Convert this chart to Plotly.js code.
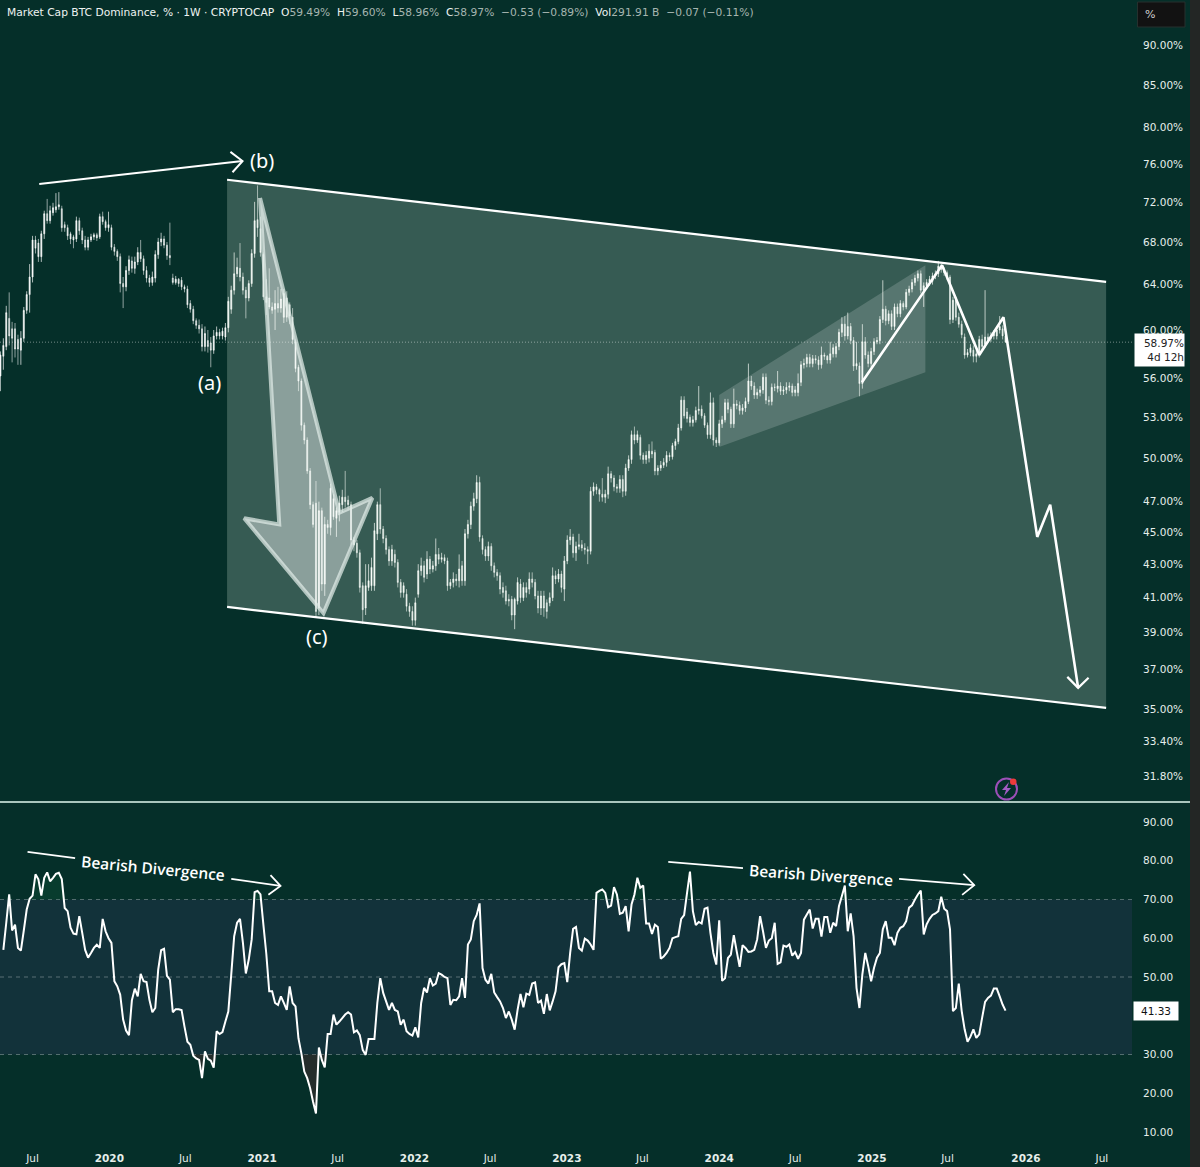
<!DOCTYPE html>
<html><head><meta charset="utf-8">
<script src="https://cdn.plot.ly/plotly-3.0.1.min.js"></script>
<style>html,body{margin:0;padding:0;background:#052f29}#c{width:1200px;height:1167px}</style></head>
<body><div id="c"></div>
<script>
const firstWeek = '2019-04-15';
const opens = [
56.2,57.8,58.6,61.0,60.1,60.1,59.2,58.3,59.3,61.7,
63.1,64.7,68.2,67.9,66.6,68.8,70.8,70.1,70.9,71.2,
71.5,71.3,69.7,69.4,68.8,68.5,68.3,70.1,69.1,68.2,
67.5,68.2,68.5,68.7,68.5,70.5,70.0,69.4,69.4,67.5,
67.1,66.6,64.1,63.8,65.3,66.2,65.5,66.1,67.0,66.4,
65.3,64.6,64.2,64.6,66.8,68.0,68.3,67.7,66.7,64.6,
64.2,64.5,64.4,63.8,63.6,62.3,61.8,60.8,60.4,60.1,
58.6,59.1,58.9,58.3,59.5,59.8,59.5,59.4,60.2,61.8,
63.5,65.0,65.5,64.7,63.5,62.8,64.1,66.9,70.2,69.3,
66.8,62.9,62.8,62.0,61.8,62.3,61.9,61.1,62.8,62.2,
61.1,59.0,56.9,55.8,52.4,51.3,49.1,46.8,46.9,40.4,
46.4,41.8,45.5,45.3,47.2,45.9,46.3,46.8,47.3,47.1,
46.8,44.5,44.3,43.7,41.7,40.4,41.6,41.7,41.7,44.9,
46.8,45.2,44.6,43.9,43.2,43.6,43.1,41.9,41.3,41.2,
40.5,40.2,39.7,41.2,42.6,42.9,42.4,43.3,42.7,42.9,
43.6,43.3,43.4,43.2,41.7,41.9,42.1,42.0,42.9,42.0,
44.9,45.5,46.7,47.2,48.3,44.6,43.9,43.5,44.1,42.9,
42.5,42.3,41.6,41.4,40.9,40.9,40.0,40.8,41.8,41.0,
41.6,41.5,42.1,41.9,41.1,40.4,41.1,40.7,40.7,41.0,
42.3,42.1,42.4,41.5,43.2,44.5,44.7,43.7,44.1,44.2,
44.0,43.9,43.8,47.7,48.0,47.8,47.5,47.3,47.5,48.9,
48.6,48.0,47.9,48.5,47.7,49.3,49.9,51.7,51.3,51.5,
50.2,49.9,50.0,50.5,50.4,49.1,49.3,49.5,49.7,50.2,
50.1,50.9,51.2,52.2,54.3,53.4,53.0,52.6,52.8,53.5,
53.6,53.1,52.4,51.7,54.1,51.3,51.1,52.5,52.8,54.1,
53.6,52.5,54.0,53.9,53.5,53.7,54.2,55.8,55.4,54.7,
54.9,55.1,56.1,54.3,54.2,55.3,55.2,55.4,55.0,55.1,
55.3,55.4,54.9,54.9,55.7,57.1,57.2,57.7,57.2,57.6,
57.5,57.1,57.9,57.8,57.5,58.0,58.0,58.6,59.8,60.5,
59.5,60.3,59.1,57.0,57.0,55.6,59.0,57.9,57.2,58.2,
59.0,59.1,60.9,61.8,60.8,61.4,60.3,62.0,61.4,62.3,
62.0,63.3,63.6,64.2,64.6,65.0,63.5,63.9,64.2,64.3,
64.8,65.0,65.7,65.4,65.1,64.7,60.9,62.6,61.1,60.5,
59.4,57.9,58.1,58.3,57.8,58.0,59.2,58.8,59.4,59.3,
59.5,59.5,60.0,60.1,59.49];
const closes = [
57.9,58.7,61.5,59.5,59.3,58.4,58.4,59.3,61.7,63.1,
64.7,68.2,67.4,66.6,68.8,70.8,70.1,71.1,71.4,71.5,
71.7,69.4,69.4,68.6,68.3,68.2,70.1,69.1,68.2,67.5,
68.2,68.5,68.7,68.4,70.5,70.0,69.4,69.7,67.5,67.1,
66.6,64.1,63.8,65.3,66.3,65.5,66.1,67.0,66.4,65.3,
64.6,64.2,64.7,66.8,68.0,68.3,67.7,66.7,66.5,64.2,
64.5,64.1,63.8,63.6,62.2,61.8,60.8,60.4,60.1,58.6,
59.7,58.6,58.3,59.5,59.8,59.5,59.9,60.2,62.5,63.5,
65.0,65.6,64.7,63.5,62.8,64.1,66.9,70.1,69.4,67.0,
62.9,62.4,62.0,61.7,62.3,61.9,62.7,63.2,61.1,61.2,
59.2,56.8,55.8,52.4,51.3,49.1,46.8,45.5,40.2,46.4,
41.8,45.5,45.3,47.9,46.0,46.4,46.9,47.3,47.0,46.8,
44.5,44.2,43.7,41.6,40.3,41.7,42.0,42.8,45.1,46.8,
45.2,44.6,43.9,43.2,43.9,43.1,41.9,41.3,41.7,40.5,
40.2,39.7,40.7,42.6,42.9,42.2,43.3,42.7,42.9,43.6,
43.3,43.4,43.2,41.7,41.9,42.1,42.0,42.7,42.0,44.9,
45.5,46.7,47.2,48.3,44.7,43.9,43.5,44.1,42.9,42.5,
42.3,41.5,41.3,40.8,40.8,40.0,40.9,41.9,41.0,41.6,
41.3,42.1,41.9,41.1,40.4,41.1,40.4,40.2,41.0,42.3,
42.1,42.4,41.6,43.2,44.5,44.7,43.7,44.1,44.2,44.0,
43.9,43.8,47.7,48.0,47.8,47.5,47.3,47.5,48.9,48.6,
48.0,47.9,48.5,47.7,49.3,49.9,51.7,51.3,51.7,50.2,
49.9,50.2,50.5,50.3,49.1,49.3,49.5,49.7,50.2,50.1,
50.9,51.2,52.2,54.3,53.1,52.9,52.6,52.8,53.5,53.6,
53.1,52.4,51.7,54.1,51.3,51.1,52.5,52.8,54.1,53.6,
52.5,54.0,53.9,53.5,53.7,54.2,55.8,55.4,54.7,54.9,
55.1,56.1,54.3,54.2,55.3,55.3,55.4,55.0,55.1,55.3,
55.4,54.9,55.1,55.6,57.1,57.2,57.7,57.2,57.6,57.5,
57.1,57.9,57.8,57.5,58.0,58.5,58.6,59.8,60.5,59.5,
60.3,59.1,57.0,57.2,55.6,59.0,57.9,57.2,58.2,59.0,
59.1,60.9,61.8,60.8,61.4,60.3,62.0,61.4,62.3,62.0,
63.3,63.6,64.2,64.6,65.0,63.5,63.9,64.2,64.5,64.8,
65.0,65.7,65.4,65.1,64.7,60.9,62.6,61.1,60.5,59.6,
57.9,58.1,58.5,57.8,58.0,59.2,58.6,59.4,59.2,59.5,
59.7,60.0,60.3,59.5,58.97];
const highs = [
58.2,59.3,62.1,63.3,60.7,60.6,59.6,59.9,62.0,63.4,
65.9,68.6,68.6,68.3,69.1,71.1,72.3,71.6,71.9,72.9,
73.0,71.6,70.0,69.7,69.0,68.7,70.5,70.4,69.4,68.6,
68.5,68.8,68.9,68.9,70.8,71.0,70.2,71.0,69.7,67.8,
67.3,66.9,64.7,65.7,66.7,66.6,66.6,67.5,68.2,66.7,
65.7,64.9,65.2,67.2,68.4,68.9,68.6,68.0,69.9,65.0,
64.8,64.6,64.7,64.0,63.9,62.6,62.1,61.0,60.9,60.5,
60.3,60.0,59.4,60.0,60.3,60.1,60.2,60.6,62.9,63.9,
67.0,66.5,67.9,65.1,63.8,64.4,67.3,72.0,73.7,70.5,
67.0,64.5,65.5,62.4,63.5,63.8,63.6,63.6,63.4,62.4,
61.9,59.2,57.1,56.0,52.6,51.5,49.3,47.0,48.4,47.0,
46.6,46.0,45.8,48.2,47.5,46.6,47.4,47.8,49.1,47.4,
47.0,44.7,44.5,43.9,41.9,43.0,43.0,43.4,45.6,47.0,
47.9,45.4,44.8,44.1,44.2,43.9,43.3,42.1,41.9,41.5,
40.7,40.5,41.0,43.0,43.4,43.2,43.8,43.5,43.2,44.6,
44.0,43.7,43.6,43.4,42.1,42.5,42.4,43.6,43.2,45.2,
45.8,47.0,47.6,48.8,48.7,44.8,44.1,44.4,44.3,43.1,
42.7,42.5,41.9,41.7,41.2,41.1,41.0,42.2,42.1,41.9,
41.9,42.5,42.5,42.1,41.4,41.4,41.4,40.9,41.3,42.8,
42.6,42.7,42.6,43.5,44.8,45.2,44.9,44.4,44.9,44.5,
44.3,44.1,48.0,48.3,48.2,47.9,48.6,47.8,49.4,49.1,
48.8,48.2,48.8,48.8,49.6,50.2,52.0,52.3,52.0,51.7,
50.4,50.5,51.0,51.2,50.6,49.5,49.8,50.0,50.5,50.4,
51.1,51.4,52.5,54.6,54.6,53.7,53.2,53.1,53.8,55.4,
53.9,53.3,52.6,54.9,54.5,51.5,52.8,53.1,54.4,54.4,
53.8,55.2,54.3,54.2,54.0,54.5,57.2,56.2,55.7,55.2,
55.4,56.4,56.4,54.6,55.6,55.6,56.6,55.7,55.4,55.7,
55.7,55.6,55.4,56.4,57.4,57.6,58.0,58.0,57.9,57.9,
57.8,58.6,58.1,57.9,59.0,58.8,58.9,60.1,61.1,61.2,
61.5,60.6,59.4,59.0,57.3,60.5,59.4,58.2,58.5,59.3,
59.4,61.2,64.4,62.1,61.7,61.7,62.3,62.3,62.6,62.5,
63.6,63.9,64.5,64.9,65.3,65.3,64.2,64.5,64.8,65.1,
65.3,66.2,65.9,65.6,65.3,64.9,62.9,62.9,61.5,60.8,
59.7,58.4,58.8,58.7,58.3,59.5,59.6,63.5,59.7,59.8,
60.0,60.3,61.2,60.4,59.6];
const lows = [
55.0,56.7,58.3,58.7,57.3,57.7,57.1,57.1,59.0,61.4,
61.5,64.2,66.9,66.1,66.1,68.3,69.8,69.8,70.6,70.9,
71.2,69.0,69.0,68.2,67.8,67.4,68.0,68.7,67.8,67.2,
67.2,68.0,68.2,68.1,68.3,69.7,69.1,69.0,67.2,66.7,
66.2,63.3,61.9,63.4,64.9,65.1,65.0,65.8,66.1,64.9,
64.2,63.8,63.9,64.2,66.4,67.6,67.4,66.3,65.8,64.0,
64.0,63.8,63.5,63.3,61.9,61.5,60.5,60.1,59.7,58.2,
58.2,58.1,56.9,58.0,59.2,59.2,59.2,59.1,59.8,61.4,
63.1,64.7,64.3,63.1,61.0,62.5,63.8,66.5,68.5,66.6,
62.6,61.3,61.8,61.4,60.0,61.5,61.5,60.6,60.7,60.5,
58.8,56.5,55.0,52.0,51.0,48.9,46.5,45.3,39.9,40.0,
41.4,41.1,44.9,44.8,45.8,44.7,45.7,46.3,46.6,46.5,
44.2,43.8,43.4,41.3,39.5,40.0,41.4,41.4,41.4,44.5,
44.9,44.3,43.6,42.9,42.9,42.8,41.6,41.0,41.0,40.2,
39.9,39.4,39.4,41.0,42.3,41.9,42.1,42.4,42.5,42.6,
43.0,43.1,43.0,41.4,41.5,41.6,41.7,41.6,41.7,41.7,
44.6,45.2,46.4,46.9,44.4,43.6,43.2,43.2,42.6,42.2,
42.0,41.2,41.0,40.6,40.5,39.7,39.2,40.6,40.7,40.8,
41.0,41.2,41.6,40.9,40.1,40.0,39.9,39.8,40.5,40.8,
41.8,41.9,41.3,40.8,43.0,44.2,43.4,43.2,43.9,43.8,
43.6,43.0,43.6,47.4,47.5,47.0,47.0,46.9,47.2,48.3,
47.7,47.6,47.6,47.3,47.4,49.1,49.6,51.0,51.1,49.9,
49.6,49.6,49.7,50.0,48.8,48.8,49.1,49.3,49.4,49.8,
49.9,50.6,51.0,52.0,52.9,52.6,52.3,52.3,52.6,53.2,
52.9,52.2,51.4,51.4,50.9,50.8,50.9,52.2,52.6,53.3,
52.2,52.2,53.6,53.2,53.2,53.4,54.0,55.1,54.4,54.4,
54.6,54.8,54.0,53.9,53.9,55.0,54.9,54.7,54.7,54.8,
55.0,54.6,54.6,54.6,55.4,56.8,56.9,56.9,56.9,57.2,
56.7,56.8,57.5,57.2,57.2,57.7,57.7,58.3,59.4,59.1,
59.2,58.8,56.6,56.7,54.6,55.2,57.6,56.9,56.9,57.9,
58.8,58.8,60.6,60.4,60.5,60.0,60.0,61.1,61.1,61.7,
61.8,63.0,63.3,63.9,64.3,63.2,62.0,63.6,63.9,64.0,
64.5,64.7,65.1,64.8,64.4,60.5,60.6,60.8,60.2,59.3,
57.6,57.7,57.8,57.3,57.3,57.7,58.3,58.5,58.9,59.0,
59.2,59.2,59.7,59.2,58.96];
const rsi = [
57,64,71.3,62,63.5,57.5,56.8,62,67.4,70.2,71,76.5,75.2,71,75.6,77,74.7,75.6,76.6,76.9,
75.3,67.8,67,62.7,61.2,61,65.7,61.4,57,55,56.2,57.5,58.3,57.5,65,61.8,60,58.8,48.9,47.6,
45.4,39,36.2,35,44,47,45,50.8,48.9,48.7,44.1,40.9,42,51.9,56.9,57.3,50.3,49.3,40.9,41.7,
41.7,41.5,37.2,33.3,32.5,29.7,29,28.6,23.9,30.8,28.9,28.4,26.6,36,35.3,35.8,38.5,41.1,50.6,60.5,
64,65,58.8,50.9,54.5,59.7,71.9,72.2,71.3,63.5,56,46.3,46.3,43.3,42.8,45,43.3,41.5,47.6,43.3,
42.4,34.2,30.3,25.6,23.9,21.3,17.8,14.8,31.8,28.6,26.7,35.3,35.3,40.3,37.7,38.5,39.4,40.3,40.9,40.3,
35.7,36.2,35,31.2,29.9,34,34,34,43.3,49.7,45.9,43.7,41.5,43.3,41.5,41.1,37.7,
39,36,35.3,34.9,37,34.4,43.3,47.2,46,49.7,47.8,48.3,51,50.6,50,49.7,42.8,44.1,44,45,49.7,44.6,
58.4,59.7,64.4,66,69,52.3,49.3,48.3,50.8,46,44.8,43.7,42,39.4,41.1,39,36.4,41.5,45.6,42.2,45.7,45.4,
48.3,48.6,43.3,43.9,40.5,45.6,41.4,43.7,46.3,52.5,53.3,53.6,48.7,56.2,62.4,62.9,57.5,56.8,59.9,59.4,
58.4,57,71.7,72.2,72.6,71.7,68,68.4,73.2,71.3,66.3,66.6,68.3,61.8,68.7,71.3,75.6,73,73.6,63.8,63.8,
61.1,63.5,62.9,54.7,55.3,56.2,57.5,60,60.3,60.5,65,66,71.7,77.2,67,63.4,64.2,63.8,67.6,67.9,61.4,
56.2,53.2,64.6,49,49.7,54.9,55.8,60.8,56.6,52.6,58.2,57.5,56.5,56.6,57,59.7,65.7,61.8,57.5,59.4,60,64,
53.4,53.8,58.1,57.8,58.4,55.5,56.4,54.7,56.2,
64.8,66.1,67.4,62.5,65,65,60.4,65.5,65.5,61.4,64,63.1,68.3,70.9,73.6,61.8,66.4,60.5,47.2,42,50.7,
56.2,52.8,48.9,52.4,55,56.2,62.3,64.4,60.1,60.1,58.2,61.4,62.7,63.1,64.4,67.9,68.5,70,71.3,72.3,
61,63.6,65,66,66.4,67,70.7,67.6,67,62.3,41.2,42,48.3,41.2,36.5,33.3,34.6,36.5,34.3,35.2,
39.5,43.6,44.6,45.2,47,47,45,42.9,41.33];
const priceTicks = [90,85,80,76,72,68,64,60,56,53,50,47,45,43,41,39,37,35,33.4,31.8];
const rsiTicks = [90,80,70,60,50,30,20,10];
const timeTicks = ['2019-07-01','2020-01-01','2020-07-01','2021-01-01','2021-07-01','2022-01-01','2022-07-01','2023-01-01','2023-07-01','2024-01-01','2024-07-01','2025-01-01','2025-07-01','2026-01-05','2026-07-06'];
const timeLabels = ['Jul','<b>2020</b>','Jul','<b>2021</b>','Jul','<b>2022</b>','Jul','<b>2023</b>','Jul','<b>2024</b>','Jul','<b>2025</b>','Jul','<b>2026</b>','Jul'];
const lastPrice = 58.97;
const channelX = ['2020-10-09','2026-07-16','2026-07-16','2020-10-09','2020-10-09'];
const channelY = [74.3,64.25,35.05,40.46,74.3];
const channelTopX = ['2020-10-09','2026-07-16'], channelTopY = [74.3,64.25];
const channelLowX = ['2020-10-09','2026-07-16'], channelLowY = [40.46,35.05];
const wedgeX = ['2024-01-01','2025-05-09','2025-05-09','2024-01-01','2024-01-01'];
const wedgeY = [54.7,65.8,56.5,50.8,54.7];
const bigArrowX = ['2020-12-27','2021-07-05','2021-09-22','2021-05-28','2020-11-19','2021-02-11','2020-12-27'];
const bigArrowY = [72.4,46.26,47.25,40.1,45.9,45.5,72.4];
const pathX = ['2024-12-08','2025-06-18','2025-09-15','2025-11-12','2026-02-01','2026-03-04','2026-05-10'];
const pathY = [55.7,65.8,57.9,61.1,44.7,46.8,36.06];
const pathHeadX = ['2026-04-14','2026-05-10','2026-06-04'], pathHeadY = [36.63,36.06,36.58];
const topArrowX = ['2019-07-17','2020-11-15'], topArrowY = [73.85,76.3];
const topHeadX = ['2020-10-17','2020-11-15','2020-10-22'], topHeadY = [77.3,76.3,75.1];
const div1X = [['2019-06-19','2019-10-11'],['2020-10-19','2021-02-14'],['2021-01-21','2021-02-14','2021-01-16']];
const div1Y = [[82.3,80.7],[75.3,73.5],[76.3,73.5,71.2]];
const div2X = [['2023-09-01','2024-02-27'],['2025-03-07','2025-09-03'],['2025-08-08','2025-09-03','2025-08-05']];
const div2Y = [[79.7,78.1],[75.3,73.7],[76.6,73.7,71.2]];

const BG='#052f29', W=1200, H=1167, PW=1132, PH=1147;
const weeks = closes.map((_,i)=>{const d=new Date(firstWeek+'T00:00:00Z');d.setUTCDate(d.getUTCDate()+7*i);return d.toISOString().slice(0,10);});
const rsiWeeks = rsi.map((_,i)=>{const d=new Date(firstWeek+'T00:00:00Z');d.setUTCDate(d.getUTCDate()+7*(i+closes.length-rsi.length));return d.toISOString().slice(0,10);});
const px=x=>x/PW, py=y=>1-y/PH;
const line=(x,y,yaxis,width,color)=>({type:'scatter',mode:'lines',x,y,yaxis,line:{color:color||'#fff',width:width||2,simplify:false},hoverinfo:'skip',showlegend:false});
const area=(x,y,fillcolor,lc,lw)=>({type:'scatter',mode:'lines',x,y,yaxis:'y',fill:'toself',fillcolor,line:{color:lc||'rgba(0,0,0,0)',width:lw||0},hoverinfo:'skip',showlegend:false});
const xEnds=['2019-04-14','2026-09-16'];
const traces=[
 area(channelX,channelY,'rgba(235,255,235,0.215)'),
 area(wedgeX,wedgeY,'rgba(255,255,255,0.17)'),
 {type:'candlestick',x:weeks,open:opens,high:highs,low:lows,close:closes,yaxis:'y',whiskerwidth:0,
  increasing:{line:{color:'rgba(255,255,255,0.85)',width:0.8},fillcolor:'#ffffff'},
  decreasing:{line:{color:'rgba(255,255,255,0.7)',width:0.8},fillcolor:'rgba(255,255,255,0.85)'},hoverinfo:'skip',showlegend:false},
 line(xEnds,[lastPrice,lastPrice],'y',0.8,'rgba(255,255,255,0.55)'),
 area(bigArrowX,bigArrowY,'rgba(255,255,255,0.42)','rgba(225,235,232,0.72)',4),
 line(channelTopX,channelTopY,'y',2.2),line(channelLowX,channelLowY,'y',2.2),
 line(pathX,pathY,'y',2.6),line(pathHeadX,pathHeadY,'y',2.2),
 line(topArrowX,topArrowY,'y',2),line(topHeadX,topHeadY,'y',2),
 // RSI pane
 line(rsiWeeks,rsi.map(()=>70),'y2',0,'rgba(0,0,0,0)'),
 Object.assign(line(rsiWeeks,rsi.map(v=>Math.max(v,70)),'y2',0,'rgba(0,0,0,0)'),{fill:'tonexty',fillcolor:'rgba(20,120,70,0.18)'}),
 line(rsiWeeks,rsi.map(()=>30),'y2',0,'rgba(0,0,0,0)'),
 Object.assign(line(rsiWeeks,rsi.map(v=>Math.min(v,30)),'y2',0,'rgba(0,0,0,0)'),{fill:'tonexty',fillcolor:'rgba(150,40,50,0.22)'}),
 line(rsiWeeks,rsi,'y2',2),
 ...div1X.map((x,i)=>line(x,div1Y[i],'y2',1.8)),
 ...div2X.map((x,i)=>line(x,div2Y[i],'y2',1.8))
];
traces[3].line.dash='1px,2px';
const rect=(x0,y0,x1,y1,fill,lc,layer)=>({type:'rect',xref:'paper',yref:'paper',x0:px(x0),x1:px(x1),y0:py(y1),y1:py(y0),fillcolor:fill,line:{color:lc||'rgba(0,0,0,0)',width:lc?1:0},layer:layer||'above'});
const dash=(v)=>({type:'line',xref:'paper',yref:'y2',x0:0,x1:1,y0:v,y1:v,line:{color:'rgba(255,255,255,0.3)',width:1,dash:'4px,4px'},layer:'below'});
const shapes=[
 {type:'rect',xref:'paper',yref:'y2',x0:0,x1:1,y0:30,y1:70,fillcolor:'#12323a',line:{width:0},layer:'below'},
 dash(70),dash(50),dash(30),
 rect(0,801,1190,803,'#a9c6bd'),
 rect(1190,0,1200,1167,'#232625'),
 rect(1137.5,2,1185,27,'#121212','#26302e'),
 {type:'circle',xref:'paper',yref:'paper',x0:px(996),x1:px(1017),y0:py(799.5),y1:py(778.5),line:{color:'#9c4fb8',width:2},fillcolor:'rgba(0,0,0,0)'},
 {type:'path',xref:'paper',yref:'paper',path:`M ${px(1009)} ${py(782)} L ${px(1002)} ${py(790)} L ${px(1006)} ${py(790)} L ${px(1004)} ${py(796)} L ${px(1011)} ${py(788)} L ${px(1007)} ${py(788)} Z`,fillcolor:'#a35cc4',line:{width:0}},
 {type:'circle',xref:'paper',yref:'paper',x0:px(1010),x1:px(1016.5),y0:py(785),y1:py(778.5),fillcolor:'#ee3b3b',line:{width:0}}
];
const ann=(text,x,y,o)=>Object.assign({text,xref:'paper',yref:'paper',x:px(x),y:py(y),xanchor:'center',yanchor:'middle',showarrow:false,font:{family:'Noto Sans',size:20,color:'#fff'}},o||{});
const G='#a5b5b0';
const val=s=>`<span style="color:${G}">${s}</span>`;
const header='Market Cap BTC Dominance, % · 1W · CRYPTOCAP&nbsp;&nbsp;O'+val('59.49%')+'&nbsp;&nbsp;H'+val('59.60%')+'&nbsp;&nbsp;L'+val('58.96%')+'&nbsp;&nbsp;C'+val('58.97%')+'&nbsp;&nbsp;'+val('−0.53 (−0.89%)')+'&nbsp;&nbsp;Vol'+val('291.91 B')+'&nbsp;&nbsp;'+val('−0.07 (−0.11%)');
const annotations=[
 ann(header,5,13,{xanchor:'left',font:{family:'DejaVu Sans',size:10.7,color:'#eef3f1'}}),
 ann('(b)',262,161),ann('(a)',209,382),ann('(c)',317,636),
 ann('Bearish Divergence',153,868,{textangle:5.5,font:{family:'Open Sans',size:15.5,color:'#fff',weight:600}}),
 ann('Bearish Divergence',821,875,{textangle:4,font:{family:'Open Sans',size:15.5,color:'#fff',weight:600}}),
 ann('%',1150,14,{font:{family:'DejaVu Sans',size:11,color:'#d0d0d0'}}),
 ann('58.97%<br>4d 12h',1134,350,{xanchor:'left',align:'right',width:49,height:32,bgcolor:'#ffffff',borderpad:0,font:{family:'DejaVu Sans',size:10.5,color:'#222'}}),
 ann('41.33',1133,1011,{xanchor:'left',width:44,height:18,bgcolor:'#ffffff',borderpad:0,font:{family:'DejaVu Sans',size:10.5,color:'#111'}})
];
const tickFont={family:'DejaVu Sans',size:10.5,color:'#e6eeeb'};
const layout={
 width:W,height:H,paper_bgcolor:BG,plot_bgcolor:BG,showlegend:false,
 margin:{l:0,r:W-PW,t:0,b:H-PH,pad:0},
 xaxis:{type:'date',range:xEnds,anchor:'y2',tickmode:'array',tickvals:timeTicks,ticktext:timeLabels,tickangle:0,showgrid:false,zeroline:false,showline:false,ticks:'',tickfont:tickFont,rangeslider:{visible:false},ticklabelstandoff:3,automargin:false},
 yaxis:{type:'log',domain:[1-801/PH,1],range:[Math.log10(30.7),Math.log10(95.95)],side:'right',anchor:'x',tickmode:'array',tickvals:priceTicks,ticktext:priceTicks.map(v=>v.toFixed(2)+'%'),showgrid:false,zeroline:false,showline:false,ticks:'',tickfont:tickFont,ticklabelstandoff:10,automargin:false},
 yaxis2:{type:'linear',domain:[0,1-803/PH],range:[6.13,94.9],side:'right',anchor:'x',tickmode:'array',tickvals:rsiTicks,ticktext:rsiTicks.map(v=>v.toFixed(2)),showgrid:false,zeroline:false,showline:false,ticks:'',tickfont:tickFont,ticklabelstandoff:10,automargin:false},
 boxgap:0.5,
 shapes,annotations
};
Plotly.newPlot('c',traces,layout,{displayModeBar:false,staticPlot:true});
</script></body></html>
